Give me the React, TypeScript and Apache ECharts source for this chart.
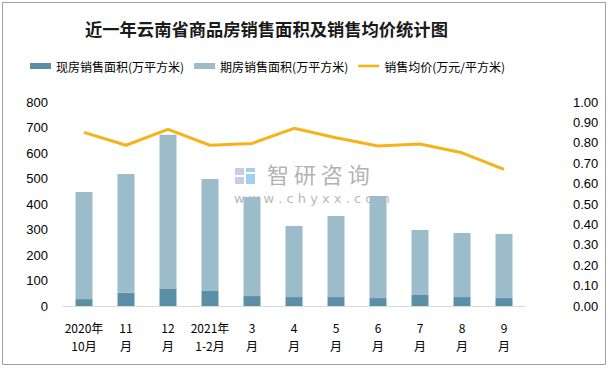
import React, { useEffect, useRef } from "react";
import * as echarts from "echarts";

const categories = ["2020年\n10月", "11\n月", "12\n月", "2021年\n1-2月", "3\n月", "4\n月", "5\n月", "6\n月", "7\n月", "8\n月", "9\n月"];
const spotArea = [27, 52, 67, 59, 39, 35, 35, 31, 43, 35, 31];
const futureArea = [420, 466, 605, 439, 388, 279, 318, 400, 255, 251, 251];
const avgPrice = [0.851, 0.788, 0.866, 0.788, 0.797, 0.871, 0.825, 0.784, 0.794, 0.751, 0.670];
const leftTicks = { min: 0, max: 800, interval: 100 };
const rightTicks = { min: 0, max: 1, interval: 0.1 };

const FONT = "'Noto Sans CJK SC', 'Noto Sans', sans-serif";

export default function App() {
  const ref = useRef<HTMLDivElement>(null);
  useEffect(() => {
    document.body.style.margin = "0";
    const chart = echarts.init(ref.current!, null, { renderer: "svg" });
    chart.setOption({
      animation: false,
      backgroundColor: "#ffffff",
      title: {
        text: "近一年云南省商品房销售面积及销售均价统计图",
        left: 80,
        top: 15,
        textStyle: { fontFamily: FONT, fontSize: 17.3, fontWeight: "bold", color: "#1a1a1a" },
      },
      legend: {
        left: 25,
        top: 55,
        itemWidth: 21,
        itemHeight: 6,
        itemGap: 10,
        textStyle: { fontFamily: FONT, fontSize: 12, color: "#000" },
        data: [
          { name: "现房销售面积(万平方米)", icon: "rect" },
          { name: "期房销售面积(万平方米)", icon: "rect" },
          { name: "销售均价(万元/平方米)", icon: "path://M0,0H24V3H0Z", itemStyle: { color: "#F5B31B" } },
        ],
      },
      grid: { left: 63, right: 85, top: 102, bottom: 62, containLabel: false },
      xAxis: {
        type: "category",
        data: categories,
        axisTick: { show: false },
        axisLine: { lineStyle: { color: "#d9d9d9", width: 1 } },
        axisLabel: { interval: 0, fontFamily: FONT, fontSize: 12, lineHeight: 18, color: "#000", margin: 12 },
      },
      yAxis: [
        {
          type: "value",
          ...leftTicks,
          splitLine: { show: false },
          axisLine: { show: false },
          axisTick: { show: false },
          axisLabel: { fontFamily: "'Liberation Sans', sans-serif", fontSize: 13, color: "#000", margin: 15 },
        },
        {
          type: "value",
          ...rightTicks,
          splitLine: { show: false },
          axisLine: { show: false },
          axisTick: { show: false },
          axisLabel: {
            fontFamily: "'Liberation Sans', sans-serif",
            fontSize: 13,
            color: "#000",
            margin: 48,
            formatter: (v: number) => v.toFixed(2),
          },
        },
      ],
      series: [
        {
          name: "现房销售面积(万平方米)",
          type: "bar",
          stack: "area",
          barWidth: 17,
          data: spotArea,
          itemStyle: { color: "#5B8FA8" },
        },
        {
          name: "期房销售面积(万平方米)",
          type: "bar",
          stack: "area",
          barWidth: 17,
          data: futureArea,
          itemStyle: { color: "#9DBCC9" },
        },
        {
          name: "销售均价(万元/平方米)",
          type: "line",
          yAxisIndex: 1,
          data: avgPrice,
          symbol: "none",
          lineStyle: { color: "#F5B31B", width: 3 },
          itemStyle: { color: "#F5B31B" },
        },
      ],
      graphic: [
        {
          type: "rect",
          shape: { x: 2.5, y: 2.5, width: 603, height: 362 },
          style: { fill: "none", stroke: "#a0a0a0", lineWidth: 1 },
          silent: true,
        },
        {
          type: "group",
          left: 235,
          top: 168,
          silent: true,
          children: [
            { type: "rect", shape: { x: 0, y: 0, width: 9, height: 7 }, style: { fill: "#c5cfe0" } },
            { type: "rect", shape: { x: 0, y: 9, width: 9, height: 7 }, style: { fill: "#c5cfe0" } },
            { type: "rect", shape: { x: 11, y: 0, width: 9, height: 4 }, style: { fill: "#9fd0ef" } },
            { type: "rect", shape: { x: 11, y: 6, width: 9, height: 10 }, style: { fill: "#9fd0ef" } },
          ],
        },
        {
          type: "text",
          left: 267,
          top: 162,
          silent: true,
          style: { text: "智 研 咨 询", font: `22px ${FONT}`, fill: "#b3b3b3" },
        },
        {
          type: "text",
          left: 234,
          top: 192,
          silent: true,
          style: { text: "w w w . c h y x x . c o m", font: `13px 'DejaVu Sans', sans-serif`, fill: "#b8b8b8" },
        },
      ],
    });
    return () => chart.dispose();
  }, []);
  return <div ref={ref} style={{ position: "absolute", left: 0, top: 0, width: 610, height: 368 }} />;
}
